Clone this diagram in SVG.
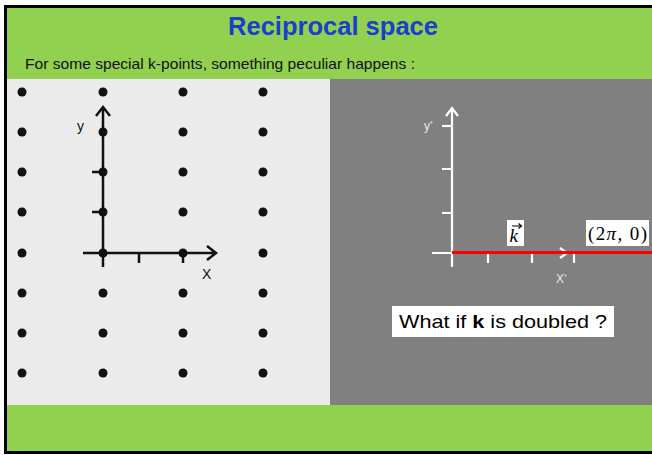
<svg xmlns="http://www.w3.org/2000/svg" width="652" height="455" viewBox="0 0 652 455">
<style>
.dot{fill:#111}
.ax{stroke:#111;stroke-width:2.5;fill:none}
.wax{stroke:#fff;stroke-width:2.2;fill:none}
.sans{font-family:"Liberation Sans","DejaVu Sans",sans-serif}
.serif{font-family:"Liberation Serif","DejaVu Serif",serif}
</style>
<rect x="0" y="0" width="652" height="455" fill="#fff"/>
<rect x="5.5" y="6.5" width="660" height="446" fill="#92d050" stroke="#000" stroke-width="3"/>
<g id="title"><text x="228" y="35" textLength="210" lengthAdjust="spacingAndGlyphs" class="sans" font-size="25" font-weight="bold" fill="#1a3fcc">Reciprocal space</text></g>
<g id="subtitle"><text x="25" y="69" textLength="390" lengthAdjust="spacingAndGlyphs" class="sans" font-size="14.5" fill="#111">For some special k-points, something peculiar happens  :</text></g>
<g id="real-space">
<rect x="7" y="79" width="323" height="326" fill="#ebebeb"/>
<g id="lattice">
<circle class="dot" cx="22" cy="92" r="4.5"/><circle class="dot" cx="103" cy="92" r="4.5"/><circle class="dot" cx="183" cy="92" r="4.5"/><circle class="dot" cx="263" cy="92" r="4.5"/>
<circle class="dot" cx="22" cy="132" r="4.5"/><circle class="dot" cx="103" cy="132" r="4.5"/><circle class="dot" cx="183" cy="132" r="4.5"/><circle class="dot" cx="263" cy="132" r="4.5"/>
<circle class="dot" cx="22" cy="172" r="4.5"/><circle class="dot" cx="103" cy="172" r="4.5"/><circle class="dot" cx="183" cy="172" r="4.5"/><circle class="dot" cx="263" cy="172" r="4.5"/>
<circle class="dot" cx="22" cy="212" r="4.5"/><circle class="dot" cx="103" cy="212" r="4.5"/><circle class="dot" cx="183" cy="212" r="4.5"/><circle class="dot" cx="263" cy="212" r="4.5"/>
<circle class="dot" cx="22" cy="253" r="4.5"/><circle class="dot" cx="103" cy="253" r="4.5"/><circle class="dot" cx="183" cy="253" r="4.5"/><circle class="dot" cx="263" cy="253" r="4.5"/>
<circle class="dot" cx="22" cy="293" r="4.5"/><circle class="dot" cx="103" cy="293" r="4.5"/><circle class="dot" cx="183" cy="293" r="4.5"/><circle class="dot" cx="263" cy="293" r="4.5"/>
<circle class="dot" cx="22" cy="333" r="4.5"/><circle class="dot" cx="103" cy="333" r="4.5"/><circle class="dot" cx="183" cy="333" r="4.5"/><circle class="dot" cx="263" cy="333" r="4.5"/>
<circle class="dot" cx="22" cy="373" r="4.5"/><circle class="dot" cx="103" cy="373" r="4.5"/><circle class="dot" cx="183" cy="373" r="4.5"/><circle class="dot" cx="263" cy="373" r="4.5"/>
</g>
<g id="real-axes">
<path class="ax" d="M103 267V107M96 116L103 107L110 116"/>
<path class="ax" d="M83 253H216M207 246L216 253L207 260"/>
<path class="ax" d="M92 172H103M92 212H103M139 253V263M183 253V263"/>
<text x="77" y="131" class="sans" font-size="14" fill="#111">y</text>
<text x="202" y="279" class="sans" font-size="14" fill="#111">X</text>
</g>
</g>
<g id="reciprocal-space">
<rect x="330" y="79" width="322" height="326" fill="#808080"/>
<g id="recip-axes">
<path class="wax" d="M452 267V108M446 116L452 108L458 116"/>
<path class="wax" d="M432 253H567M560 248L567 253L560 258"/>
<path class="wax" d="M442 126H452" stroke-width="3"/>
<path class="wax" d="M442 169H452M442 213H452M488 253V263M532 253V263M574 253V263"/>
<text x="424" y="130" class="sans" font-size="12" fill="#e8e8e8">y<tspan font-size="7" dy="-4">*</tspan></text>
<text x="556" y="283" class="sans" font-size="12" fill="#e8e8e8">X<tspan font-size="7" dy="-4">*</tspan></text>
</g>
<g id="k-vector">
<line x1="452" y1="252.5" x2="652" y2="252.5" stroke="#ff0000" stroke-width="3"/>
</g>
<g id="k-label">
<rect x="507" y="220" width="17" height="26" fill="#fff"/>
<text x="509.5" y="242" class="serif" font-size="19" font-style="italic" fill="#000">k</text>
<path d="M512 226H521M518.5 223.5L521.5 226L518.5 228.5" stroke="#000" stroke-width="1.2" fill="none"/>
</g>
<g id="point-label">
<rect x="586" y="220" width="63" height="26" fill="#fff"/>
<text x="588" y="240" textLength="59" lengthAdjust="spacing" class="serif" font-size="19" fill="#000">(2<tspan font-style="italic">π</tspan>, 0)</text>
</g>
<g id="question">
<rect x="392" y="306" width="222" height="31" fill="#fff"/>
<text x="399" y="328" textLength="208" lengthAdjust="spacingAndGlyphs" class="sans" font-size="18.5" fill="#000">What if <tspan font-weight="bold">k</tspan> is doubled ?</text>
</g>
</g>
</svg>
